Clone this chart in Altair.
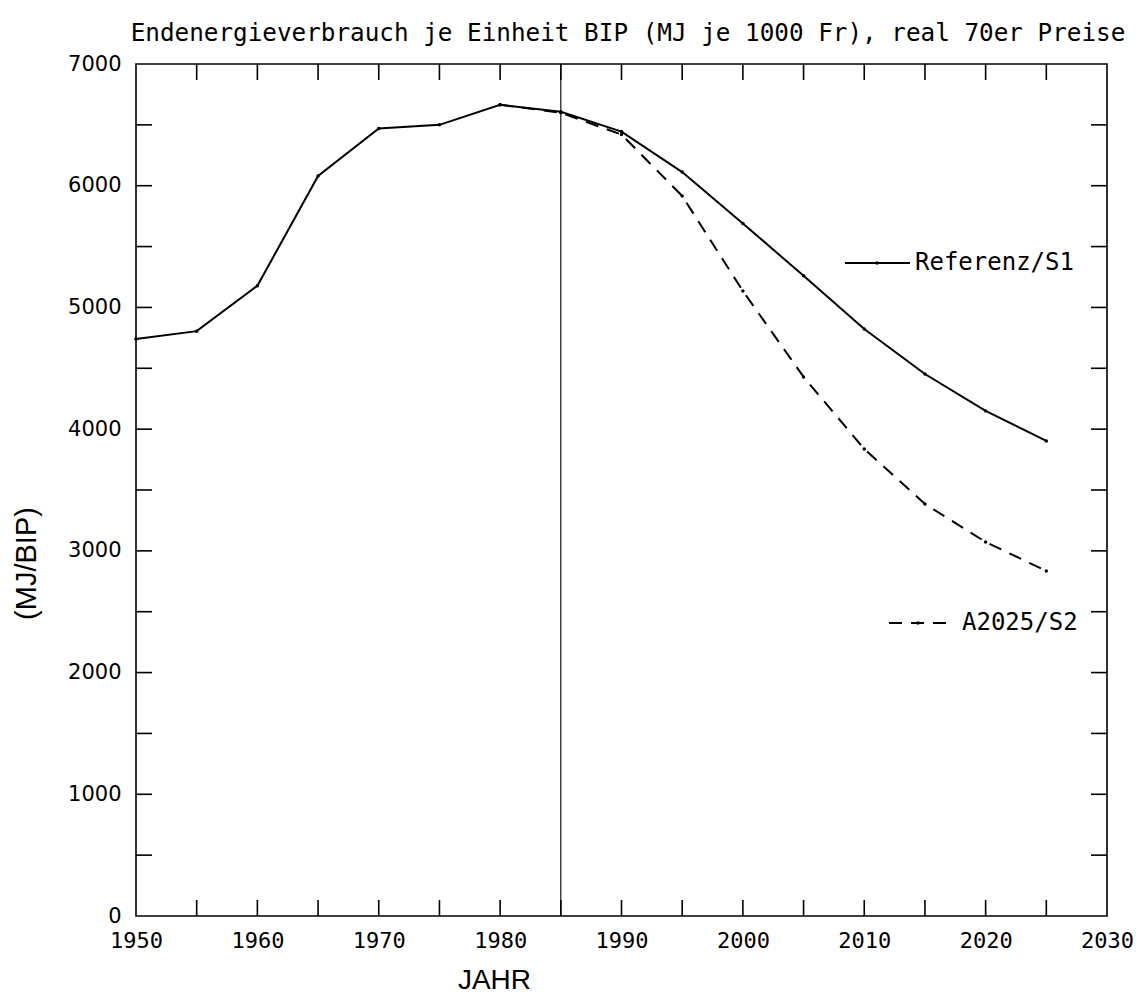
import altair as alt
import pandas as pd

# ---- data ----
ref_years = [1950, 1955, 1960, 1965, 1970, 1975, 1980, 1985, 1990, 1995, 2000, 2005, 2010, 2015, 2020, 2025]
ref_values = [4740, 4805, 5178, 6080, 6470, 6500, 6665, 6608, 6445, 6112, 5690, 5260, 4823, 4453, 4150, 3903]

alt_years = [1980, 1985, 1990, 1995, 2000, 2005, 2010, 2015, 2020, 2025]
alt_values = [6665, 6600, 6420, 5916, 5135, 4429, 3837, 3385, 3073, 2835]

x_label_values = [1950, 1960, 1970, 1980, 1990, 2000, 2010, 2020, 2030]
y_label_values = [0, 1000, 2000, 3000, 4000, 5000, 6000, 7000]
x_tick_values = [1955, 1960, 1965, 1970, 1975, 1980, 1985, 1990, 1995, 2000, 2005, 2010, 2015, 2020, 2025]
y_tick_values = [500, 1000, 1500, 2000, 2500, 3000, 3500, 4000, 4500, 5000, 5500, 6000, 6500]
divider_years = [1985]
legend_labels = ["Referenz/S1", "A2025/S2"]

title_text = "Endenergieverbrauch je Einheit BIP (MJ je 1000 Fr), real 70er Preise"
x_title = "JAHR"
y_title = "(MJ/BIP)"

# ---- layout / style ----
W, H = 971, 852
TICK = 16
MONO = "DejaVu Sans Mono"

xs = alt.Scale(domain=[1950, 2030], nice=False, zero=False)
ys = alt.Scale(domain=[0, 7000], nice=False, zero=True)

ref_df = pd.DataFrame({"year": ref_years, "value": ref_values})
alt_df = pd.DataFrame({"year": alt_years, "value": alt_values})

x_axis = alt.Axis(
    values=x_label_values, format="d", title=x_title, ticks=False, domain=False, grid=False,
    labelFont=MONO, labelFontSize=22, labelPadding=14, labelColor="black", labelFlush=False,
    labelOverlap=False,
    titleFont="Liberation Sans", titleFontSize=28, titleFontWeight="normal", titleColor="black",
    titleX=358, titleY=72, titleAlign="center", titleBaseline="alphabetic", titleAnchor="start",
)
y_axis = alt.Axis(
    values=y_label_values, format="d", title=y_title, ticks=False, domain=False, grid=False,
    labelFont="DejaVu Sans", labelFontSize=21, labelPadding=15, labelColor="black", labelFlush=False,
    labelOverlap=False,
    titleFont="Liberation Sans", titleFontSize=29, titleFontWeight="normal", titleColor="black",
    titleAngle=-90, titleX=-110, titleY=499, titleAlign="center", titleBaseline="middle",
    titleAnchor="start",
)

X = alt.X("year:Q", scale=xs, axis=x_axis)
Y = alt.Y("value:Q", scale=ys, axis=y_axis)

alt_line = alt.Chart(alt_df).mark_line(color="black", strokeWidth=2, strokeDash=[13, 9]).encode(x=X, y=Y)
alt_pts = alt.Chart(alt_df).mark_point(color="black", filled=True, size=12, opacity=1).encode(x=X, y=Y)
ref_line = alt.Chart(ref_df).mark_line(color="black", strokeWidth=2).encode(x=X, y=Y)
ref_pts = alt.Chart(ref_df).mark_point(color="black", filled=True, size=12, opacity=1).encode(x=X, y=Y)

divider = alt.Chart(pd.DataFrame({"year": divider_years})).mark_rule(color="black", strokeWidth=1.1).encode(
    x=X, y=alt.value(0), y2=alt.value(H)
)

xt_df = pd.DataFrame({"year": x_tick_values})
yt_df = pd.DataFrame({"value": y_tick_values})
tick_style = dict(color="black", strokeWidth=1.6)
ticks_bottom = alt.Chart(xt_df).mark_rule(**tick_style).encode(x=X, y=alt.value(H - TICK), y2=alt.value(H))
ticks_top = alt.Chart(xt_df).mark_rule(**tick_style).encode(x=X, y=alt.value(0), y2=alt.value(TICK))
ticks_left = alt.Chart(yt_df).mark_rule(**tick_style).encode(y=Y, x=alt.value(0), x2=alt.value(TICK))
ticks_right = alt.Chart(yt_df).mark_rule(**tick_style).encode(y=Y, x=alt.value(W - TICK), x2=alt.value(W))

# ---- title as text ----
title_df = pd.DataFrame({"label": [title_text]})
title_mark = alt.Chart(title_df).mark_text(
    font=MONO, fontSize=24.3, align="center", baseline="alphabetic", color="black"
).encode(text="label:N", x=alt.value(492), y=alt.value(-23))

# ---- in-plot legend ----
leg1_df = pd.DataFrame({"label": [legend_labels[0]]})
leg2_df = pd.DataFrame({"label": [legend_labels[1]]})
leg1_line = alt.Chart(leg1_df).mark_rule(color="black", strokeWidth=2).encode(
    x=alt.value(709), x2=alt.value(774), y=alt.value(199)
)
leg1_pt = alt.Chart(leg1_df).mark_point(color="black", filled=True, size=12, opacity=1).encode(
    x=alt.value(741), y=alt.value(199)
)
leg1_txt = alt.Chart(leg1_df).mark_text(
    font=MONO, fontSize=24, align="left", baseline="middle", color="black"
).encode(text="label:N", x=alt.value(779), y=alt.value(199))
leg2_line = alt.Chart(leg2_df).mark_rule(color="black", strokeWidth=2, strokeDash=[13, 9]).encode(
    x=alt.value(753), x2=alt.value(811), y=alt.value(559)
)
leg2_pt = alt.Chart(leg2_df).mark_point(color="black", filled=True, size=12, opacity=1).encode(
    x=alt.value(782), y=alt.value(559)
)
leg2_txt = alt.Chart(leg2_df).mark_text(
    font=MONO, fontSize=24, align="left", baseline="middle", color="black"
).encode(text="label:N", x=alt.value(826), y=alt.value(559))

chart = alt.layer(
    alt_line, alt_pts, ref_line, ref_pts, divider,
    ticks_bottom, ticks_top, ticks_left, ticks_right,
    title_mark,
    leg1_line, leg1_pt, leg1_txt, leg2_line, leg2_pt, leg2_txt,
).properties(
    width=W,
    height=H,
    background="white",
    padding={"left": 128, "top": 56, "right": 26, "bottom": 80},
    autosize=alt.AutoSizeParams(type="none"),
).configure_view(
    stroke="black", strokeWidth=1.6
)

chart.save("out.html", embed_options={"renderer": "svg", "actions": False})
